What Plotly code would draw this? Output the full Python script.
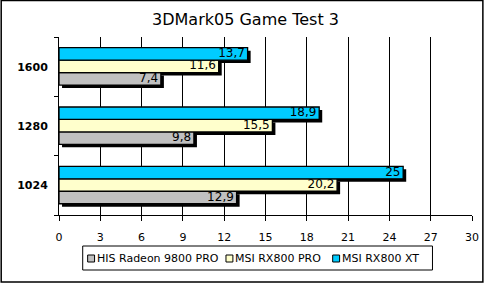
import plotly.graph_objects as go

categories = ["1024", "1280", "1600"]
series_names = ["HIS Radeon 9800 PRO", "MSI RX800 PRO", "MSI RX800 XT"]
his_9800 = [12.9, 9.8, 7.4]
msi_pro = [20.2, 15.5, 11.6]
msi_xt = [25, 18.9, 13.7]
x_ticks = list(range(0, 31, 3))

colors = ["#C0C0C0", "#FFFFCC", "#00CCFF"]
series = [his_9800, msi_pro, msi_xt]
offsets = [-0.31, -0.10, 0.11]
width = 0.21
ypos = list(range(len(categories)))

# plot-area geometry in pixels (for layout decorations)
L, R, T, B = 59, 477, 37, 215
W, H = R - L, B - T


def px(x):
    return (x - L) / W


def py(y):
    return (B - y) / H


fig = go.Figure()
# shadows
for vals, off in zip(series, offsets):
    fig.add_trace(go.Bar(
        x=vals, y=ypos, orientation="h", base=0.22, width=width, offset=off - 0.05,
        marker=dict(color="black", line=dict(width=0)), showlegend=False, hoverinfo="skip"))
# bars
for name, vals, off, c in zip(series_names, series, offsets, colors):
    fig.add_trace(go.Bar(
        x=vals, y=ypos, orientation="h", width=width, offset=off, name=name,
        marker=dict(color=c, line=dict(color="black", width=1.3)), showlegend=False))
# labels
for vals, off in zip(series, offsets):
    fig.add_trace(go.Scatter(
        x=[v - 0.2 for v in vals], y=[p + off + width / 2 for p in ypos], mode="text",
        text=[str(v).replace(".", ",") for v in vals], textposition="middle left",
        textfont=dict(family="DejaVu Sans", size=12, color="black"),
        showlegend=False, hoverinfo="skip", cliponaxis=False))

# manual legend (Excel-style)
shapes = [
    dict(type="rect", xref="paper", yref="paper", x0=px(0.5), x1=px(488), y0=py(282), y1=py(0.5),
         line=dict(color="black", width=1.5), fillcolor="rgba(0,0,0,0)", layer="above"),
    dict(type="rect", xref="paper", yref="paper", x0=px(83), x1=px(437), y0=py(270), y1=py(246),
         line=dict(color="black", width=1), fillcolor="white", layer="above"),
]
annotations = []
sw_x = [88, 228, 336]
for sx, name, c in zip(sw_x, series_names, colors):
    shapes.append(dict(type="rect", xref="paper", yref="paper", x0=px(sx), x1=px(sx + 7),
                       y0=py(262), y1=py(255), line=dict(color="black", width=1),
                       fillcolor=c, layer="above"))
    annotations.append(dict(text=name, xref="paper", yref="paper", x=px(sx + 8), y=py(258.5),
                            xanchor="left", yanchor="middle", showarrow=False, borderpad=0,
                            font=dict(family="DejaVu Sans", size=11, color="black")))

fig.update_layout(
    width=491, height=284, barmode="overlay", showlegend=False,
    margin=dict(l=L, r=491 - R, t=T, b=284 - B),
    paper_bgcolor="white", plot_bgcolor="white",
    font=dict(family="DejaVu Sans", color="black"),
    title=dict(text="3DMark05 Game Test 3", x=0.5, xref="container", xanchor="center",
               y=1 - 19 / 284, yref="container", yanchor="middle",
               font=dict(size=16, family="DejaVu Sans", color="black")),
    xaxis=dict(range=[0, 30], tickvals=x_ticks, showgrid=True, gridcolor="black", gridwidth=1,
               showline=True, linecolor="black", linewidth=1, ticks="outside", ticklen=5,
               tickcolor="black", tickfont=dict(size=11, family="DejaVu Sans"), zeroline=False,
               ticklabelstandoff=7),
    yaxis=dict(range=[-0.5, 2.5], tickvals=ypos, ticktext=categories, showgrid=False,
               showline=True, linecolor="black", linewidth=1, ticks="", zeroline=False,
               tickfont=dict(size=11, family="DejaVu Sans", weight="bold"),
               ticklabelstandoff=8,
               minor=dict(tickvals=[-0.5, 0.5, 1.5, 2.5], ticks="outside", ticklen=4,
                          tickcolor="black", showgrid=False)),
    shapes=shapes,
    annotations=annotations,
)

fig.write_html("out.html")
